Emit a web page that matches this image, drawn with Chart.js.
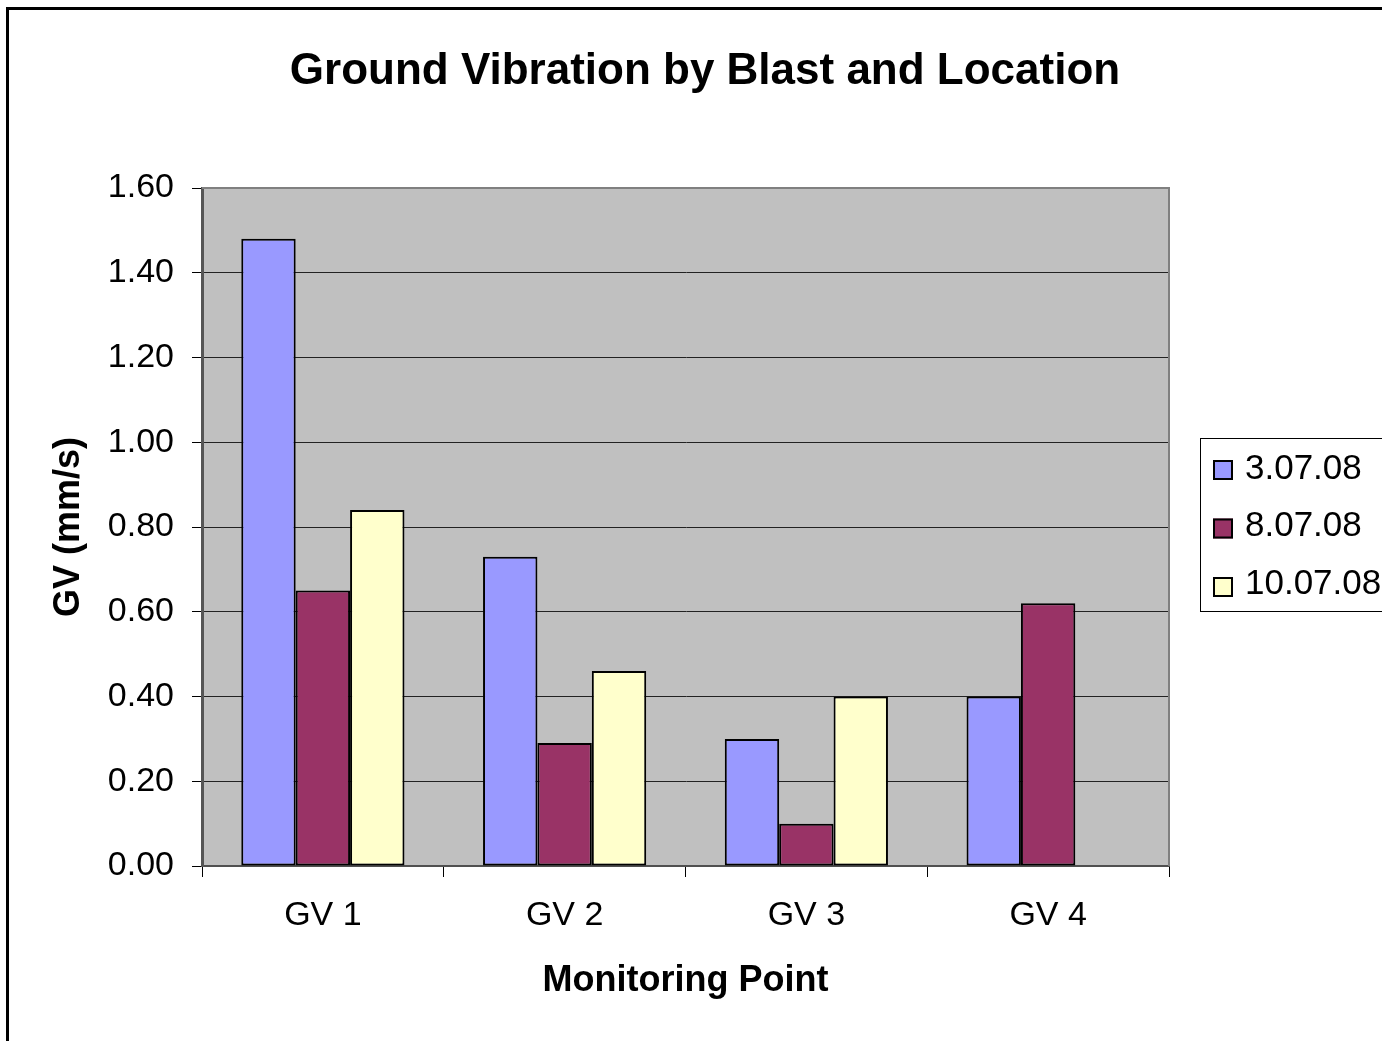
<!DOCTYPE html>
<html>
<head>
<meta charset="utf-8">
<title>Ground Vibration by Blast and Location</title>
<script src="https://cdn.jsdelivr.net/npm/chart.js@4.4.1/dist/chart.umd.min.js"></script>
<style>
  html, body { margin: 0; padding: 0; background: #fff; overflow: hidden; }
  #frame { position: absolute; left: 6px; top: 7px; width: 2000px; height: 2000px; border: 3px solid #000; pointer-events: none; }
  #gvChart { position: absolute; left: 0; top: 0; }
</style>
</head>
<body>
<div id="frame"></div>
<canvas id="gvChart" width="1382" height="1041"></canvas>
<script>
// chart data
const chartTitle = "Ground Vibration by Blast and Location";
const monitoringPoints = ["GV 1", "GV 2", "GV 3", "GV 4"];
const blastDates = ["3.07.08", "8.07.08", "10.07.08"];
const gv030708 = [1.48, 0.73, 0.30, 0.40];
const gv080708 = [0.65, 0.29, 0.10, 0.62];
const gv100708 = [0.84, 0.46, 0.40, null];
const yMin = 0, yMax = 1.6, yStep = 0.2;

const barColours = ["#9999ff", "#993366", "#ffffcc"];

Chart.defaults.font.family = '"Liberation Sans", Arial, Helvetica, sans-serif';
Chart.defaults.color = "#000";

// grey plot area, its edge, the title and the boxed legend
const excelLook = {
  id: "excelLook",
  beforeDraw(chart) {
    const { ctx, chartArea: a } = chart;
    ctx.save();
    ctx.fillStyle = "#c0c0c0";
    ctx.fillRect(a.left, a.top, a.right - a.left, a.bottom - a.top);
    ctx.restore();
  },
  beforeDatasetsDraw(chart) {
    const { ctx, chartArea: a } = chart;
    ctx.save();
    ctx.strokeStyle = "#808080";
    ctx.lineWidth = 2;
    ctx.beginPath();
    ctx.moveTo(a.left, a.top);
    ctx.lineTo(a.right, a.top);
    ctx.lineTo(a.right, a.bottom);
    ctx.stroke();
    ctx.restore();
  },
  afterDraw(chart) {
    const ctx = chart.ctx;
    ctx.save();
    ctx.fillStyle = "#000";
    ctx.textAlign = "center";
    ctx.textBaseline = "alphabetic";
    ctx.font = 'bold 44px "Liberation Sans", Arial, sans-serif';
    ctx.fillText(chartTitle, 705, 83.5);

    // legend
    ctx.strokeStyle = "#000";
    ctx.lineWidth = 1;
    ctx.strokeRect(1200.5, 438.5, 400, 173);
    ctx.textAlign = "left";
    ctx.textBaseline = "middle";
    ctx.font = '35px "Liberation Sans", Arial, sans-serif';
    chart.data.datasets.forEach((ds, i) => {
      const my = 470 + i * 58.5;
      ctx.fillStyle = ds.backgroundColor;
      ctx.fillRect(1213, my - 10, 20, 20);
      ctx.lineWidth = 2;
      ctx.strokeRect(1214, my - 9, 18, 18);
      ctx.fillStyle = "#000";
      ctx.fillText(ds.label, 1245, 469 + i * 57.5);
    });
    ctx.restore();
  }
};

new Chart(document.getElementById("gvChart"), {
  type: "bar",
  data: {
    labels: monitoringPoints,
    datasets: [gv030708, gv080708, gv100708].map((vals, i) => ({
      label: blastDates[i],
      data: vals,
      backgroundColor: barColours[i],
      borderColor: "#000",
      borderWidth: 2,
      borderSkipped: false,
      categoryPercentage: 0.675,
      barPercentage: 1
    }))
  },
  options: {
    responsive: false,
    animation: false,
    devicePixelRatio: 1,
    layout: { padding: { left: 0, top: 188, right: 213, bottom: 38.4 } },
    plugins: {
      legend: { display: false },
      title: { display: false },
      tooltip: { enabled: false }
    },
    scales: {
      x: {
        offset: true,
        afterFit(scale) { scale.height = 136.6; },
        grid: { display: true, drawOnChartArea: false, offset: true, tickLength: 11, color: "#000" },
        border: { display: true, color: "#505050", width: 2 },
        ticks: { font: { size: 34 }, padding: 18.6, maxRotation: 0 },
        title: {
          display: true,
          text: "Monitoring Point",
          font: { size: 36, weight: "bold" },
          padding: { top: 0, bottom: 0 }
        }
      },
      y: {
        min: yMin,
        max: yMax,
        afterFit(scale) { scale.width = 202; },
        ticks: {
          stepSize: yStep,
          font: { size: 34 },
          padding: 18,
          callback: v => v.toFixed(2)
        },
        grid: {
          color: c => (c.tick && (c.tick.value < yMin + 1e-6 || c.tick.value > yMax - 1e-6)) ? "rgba(0,0,0,0)" : "#222",
          tickColor: "#000",
          tickLength: 10,
          lineWidth: 1
        },
        border: { color: "#555", width: 3 },
        title: {
          display: true,
          text: "GV (mm/s)",
          font: { size: 36, weight: "bold" },
          padding: { top: 47.4, bottom: 0 }
        }
      }
    }
  },
  plugins: [excelLook]
});
</script>
</body>
</html>
